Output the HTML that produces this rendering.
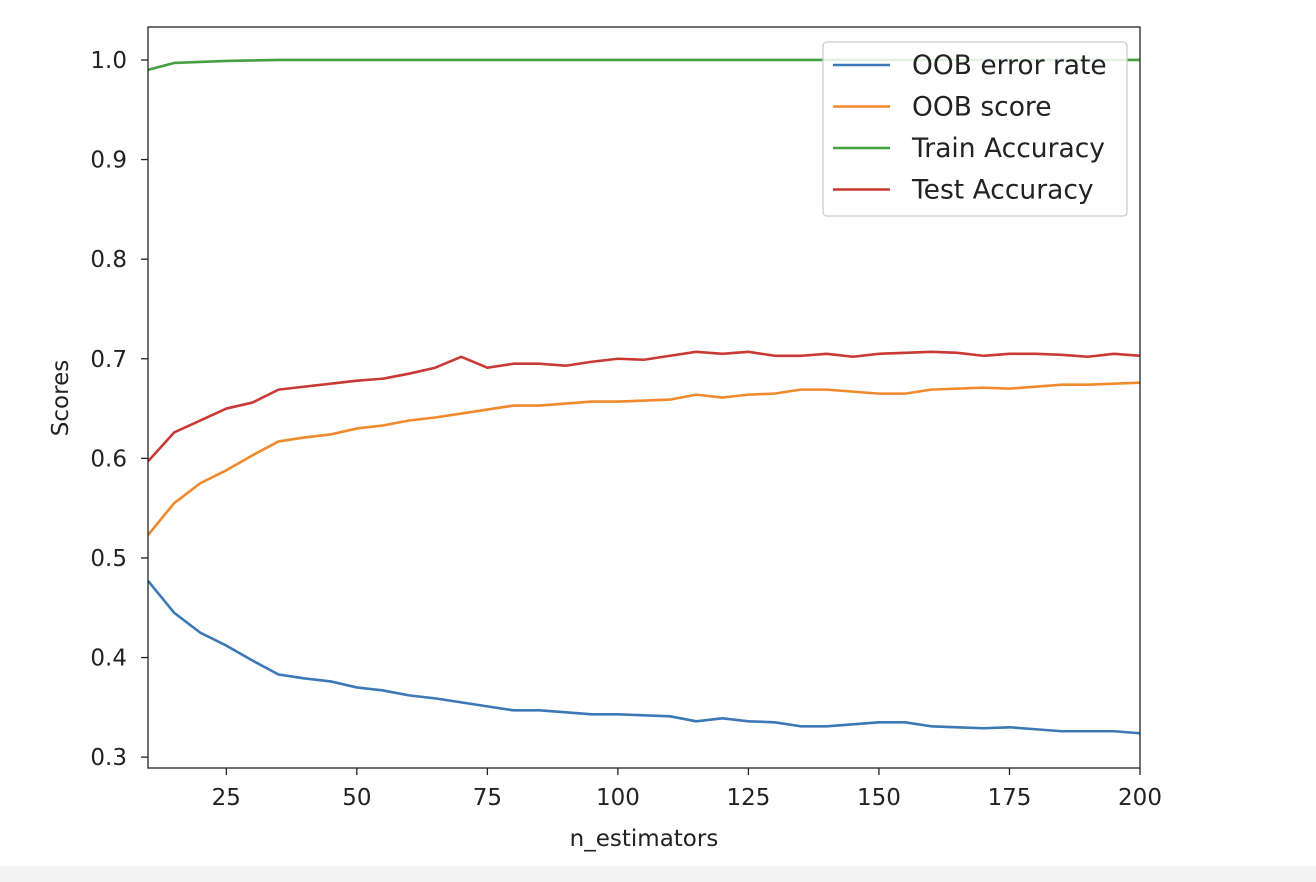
<!DOCTYPE html>
<html><head><meta charset="utf-8"><style>
body{margin:0;background:#fff;}
svg{display:block;font-family:"DejaVu Sans","Liberation Sans",sans-serif;}
</style></head><body>
<svg id="chart" width="1316" height="882">
<rect x="0" y="866" width="1316" height="16" fill="#f4f4f4"/>
<g id="plot"></g>
</svg>
<script>
const xs=[10,15,20,25,30,35,40,45,50,55,60,65,70,75,80,85,90,95,100,105,110,115,120,125,130,135,140,145,150,155,160,165,170,175,180,185,190,195,200];
const oobError=[0.477,0.445,0.425,0.412,0.397,0.383,0.379,0.376,0.370,0.367,0.362,0.359,0.355,0.351,0.347,0.347,0.345,0.343,0.343,0.342,0.341,0.336,0.339,0.336,0.335,0.331,0.331,0.333,0.335,0.335,0.331,0.330,0.329,0.330,0.328,0.326,0.326,0.326,0.324];
const oobScore=[0.523,0.555,0.575,0.588,0.603,0.617,0.621,0.624,0.630,0.633,0.638,0.641,0.645,0.649,0.653,0.653,0.655,0.657,0.657,0.658,0.659,0.664,0.661,0.664,0.665,0.669,0.669,0.667,0.665,0.665,0.669,0.670,0.671,0.670,0.672,0.674,0.674,0.675,0.676];
const trainAcc=[0.990,0.997,0.998,0.999,0.9995,1,1,1,1,1,1,1,1,1,1,1,1,1,1,1,1,1,1,1,1,1,1,1,1,1,1,1,1,1,1,1,1,1,1];
const testAcc=[0.597,0.626,0.638,0.650,0.656,0.669,0.672,0.675,0.678,0.680,0.685,0.691,0.702,0.691,0.695,0.695,0.693,0.697,0.700,0.699,0.703,0.707,0.705,0.707,0.703,0.703,0.705,0.702,0.705,0.706,0.707,0.706,0.703,0.705,0.705,0.704,0.702,0.705,0.703];
const xTicks=[25,50,75,100,125,150,175,200];
const yTicks=[0.3,0.4,0.5,0.6,0.7,0.8,0.9,1.0];
const seriesNames=["OOB error rate","OOB score","Train Accuracy","Test Accuracy"];
const colors=["#3b78b5","#f08a2c","#45a041","#c83a33"];
const L=148,R=1140,T=27,B=768;
const xmin=10,xmax=200,ymin=0.2891,ymax=1.0331;
const X=v=>L+(v-xmin)/(xmax-xmin)*(R-L);
const Y=v=>B-(v-ymin)/(ymax-ymin)*(B-T);
const NS="http://www.w3.org/2000/svg";
const g=document.getElementById('plot');
function mk(t,a,txt){const e=document.createElementNS(NS,t);for(const k in a)e.setAttribute(k,a[k]);if(txt!=null)e.textContent=txt;g.appendChild(e);return e;}
[oobError,oobScore,trainAcc,testAcc].forEach((s,i)=>{
 const e=mk('polyline',{points:s.map((v,j)=>X(xs[j])+','+Y(v)).join(' '),fill:'none',stroke:colors[i],'stroke-width':2.6,'stroke-linejoin':'round'});
 
 
});
const fr=mk('rect',{x:L,y:T,width:R-L,height:B-T,fill:'none',stroke:'#222','stroke-width':1.3});


xTicks.forEach(v=>{
 const x=X(v);
 mk('line',{x1:x,x2:x,y1:B,y2:B+7,stroke:'#222','stroke-width':1.3});
 const t=mk('text',{x:x,y:B+37,'text-anchor':'middle','font-size':23,fill:'#222'},String(v));
 
 
});
yTicks.forEach(v=>{
 const y=Y(v);
 mk('line',{x1:L-7,x2:L,y1:y,y2:y,stroke:'#222','stroke-width':1.3});
 const t=mk('text',{x:L-21,y:y+8,'text-anchor':'end','font-size':23,fill:'#222'},v.toFixed(1));
 
 
});
const xt=mk('text',{x:644,y:846,'text-anchor':'middle','font-size':23,fill:'#222'},'n_estimators');


const yt=mk('text',{x:0,y:0,transform:'translate(68,398) rotate(-90)','text-anchor':'middle','font-size':23,fill:'#222'},'Scores');


const lg=mk('rect',{x:823,y:42,width:304,height:174,rx:4,fill:'#fff','fill-opacity':0.85,stroke:'#ccc','stroke-width':1.3});


seriesNames.forEach((n,i)=>{
 const y=65+i*41.5;
 mk('line',{x1:833,x2:890,y1:y,y2:y,stroke:colors[i],'stroke-width':2.6});
 const t=mk('text',{x:912,y:y+9,'font-size':26.5,fill:'#222'},n);
 
 
});
</script>
</body></html>
